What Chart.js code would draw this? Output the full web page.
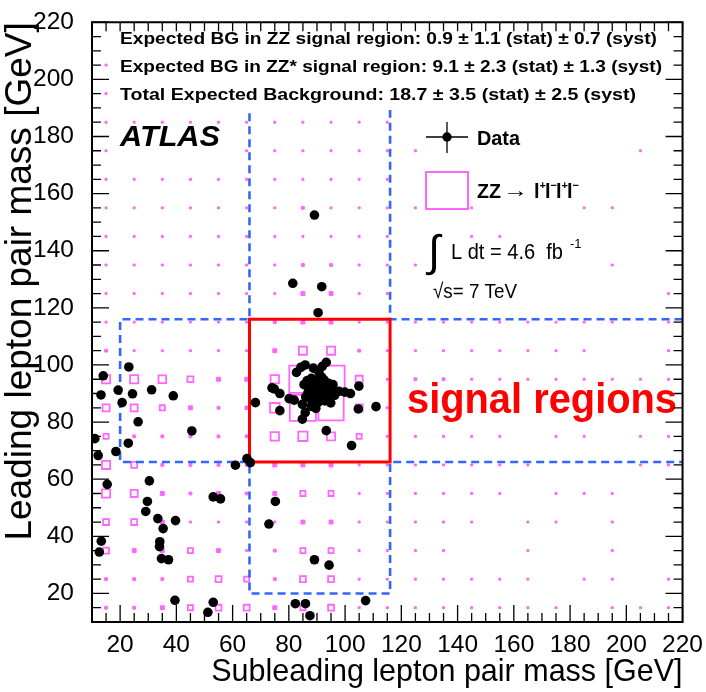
<!DOCTYPE html>
<html>
<head>
<meta charset="utf-8">
<title>ZZ candidates in the lepton pair mass plane</title>
<script src="https://cdn.jsdelivr.net/npm/chart.js@4.4.1/dist/chart.umd.min.js"></script>
<style>
	html, body { margin: 0; padding: 0; background: #fff; }
	canvas { display: block; }
</style>
</head>
<body>
<canvas id="zz-mass-plane" width="706" height="692"></canvas>
<script>
/* global Chart */
'use strict';

// Axis range and labelled ticks [GeV]
var massRange = [10, 220];
var labelTicks = [20, 40, 60, 80, 100, 120, 140, 160, 180, 200, 220];

// Signal region edges [GeV]
var zzWindow = [66, 116];
var zzStarLowCut = 20;

// Data events: subleading pair mass (x) and leading pair mass (y)
var eventsSub = [
	89.1, 81.4, 91.7, 90.4,
	14.0, 23.1, 13.2, 19.3, 20.7, 24.4, 26.4, 31.2, 38.9, 45.5,
	11.0, 12.2, 18.5, 22.9, 61.0, 65.1, 66.3,
	15.4, 30.4, 29.7, 29.1, 33.4, 35.3, 34.1, 34.0, 34.7, 37.2, 39.7, 39.5, 13.3, 12.6,
	53.1, 55.7, 51.2, 53.1, 75.2, 72.9, 89.1, 94.3, 82.3, 85.9, 87.5, 107.3,
	68.1, 102.3, 104.7, 104.9, 111.0, 74.0, 74.8, 76.8, 76.8, 80.1, 81.9, 84.8, 85.8,
	82.7, 84.3, 85.8, 88.7, 90.7, 91.9, 93.3, 93.3, 97.8, 99.9, 101.9, 85.4, 84.8, 86.0,
	86.5, 87.2, 88.0, 88.4, 88.9, 89.3, 89.6, 89.9, 90.2, 90.4, 90.6, 90.9, 91.1, 91.3,
	91.5, 91.7, 91.9, 92.1, 92.3, 92.5, 92.8, 93.0, 93.2, 93.5, 93.8, 94.1, 94.4, 94.8,
	95.3, 87.5, 88.6, 95.7, 96.3, 89.6, 87.9, 94.9, 86.8, 91.6
];
var eventsLead = [
	152.5, 128.6, 127.4, 118.3,
	96.2, 99.3, 89.5, 91.2, 86.8, 89.9, 80.1, 91.3, 89.2, 76.9,
	74.2, 68.3, 69.7, 72.6, 64.9, 67.2, 65.8,
	58.2, 59.4, 52.2, 48.7, 46.2, 42.7, 38.1, 36.4, 32.2, 31.8, 45.5, 17.6, 38.3, 34.5,
	53.8, 53.1, 13.4, 16.9, 52.2, 44.3, 31.8, 29.9, 16.4, 16.4, 12.2, 17.5,
	86.8, 71.8, 84.6, 92.6, 85.4, 92.0, 91.6, 90.0, 84.0, 88.2, 87.7, 81.0, 83.3,
	97.4, 99.2, 100.0, 98.9, 97.4, 99.5, 100.9, 77.0, 90.8, 90.5, 90.0, 93.1, 86.2, 88.8,
	94.5, 92.0, 95.3, 90.6, 93.4, 88.7, 91.8, 94.6, 90.1, 86.9, 92.7, 89.2, 91.3, 93.9,
	88.0, 90.6, 92.3, 89.7, 91.6, 94.8, 87.4, 90.2, 92.9, 88.9, 91.1, 93.6, 89.9, 91.9,
	90.5, 88.2, 86.2, 93.1, 89.4, 84.8, 85.5, 86.7, 90.3, 95.8
];

// ZZ -> 4l prediction, 10 GeV bins; box side as a fraction of the bin width
var binCentres = [15, 25, 35, 45, 55, 65, 75, 85, 95, 105, 115, 125, 135, 145, 155, 165, 175, 185, 195, 205, 215];
var binWidth = 10;
var zzBoxes = [ // rows from 215 GeV (top) down to 15 GeV
	[0, 0, 0, 0, 0, 0, 0, 0, 0, 0, 0, 0, 0, 0, 0, 0, 0, 0, 0, 0, 0],
	[.07, 0, 0, 0, 0, 0, 0, 0, 0, 0, 0, 0, 0, 0, 0, 0, 0, 0, 0, 0, 0],
	[.07, 0, 0, 0, 0, 0, 0, 0, 0, 0, 0, 0, 0, 0, 0, 0, 0, 0, 0, 0, 0],
	[.07, .07, .07, .07, .07, .07, .07, .07, .07, .07, .07, 0, 0, 0, 0, 0, 0, 0, 0, 0, 0],
	[.07, 0, 0, 0, 0, .07, .07, .07, .07, .07, .07, .07, 0, 0, 0, 0, 0, 0, 0, .07, 0],
	[.07, .07, .07, .07, .07, .07, .07, .07, .07, .07, .07, 0, 0, 0, 0, 0, 0, 0, 0, 0, 0],
	[.07, .07, .07, .07, .07, .07, .07, .10, .07, .07, .07, .07, 0, .07, 0, 0, 0, .07, .07, 0, 0],
	[.07, .07, .07, .07, .07, .07, .07, .07, .07, .07, .07, 0, 0, .07, .07, 0, 0, 0, 0, 0, 0],
	[.07, .07, .07, .07, .07, .07, .07, .10, .10, .07, .07, .07, 0, 0, 0, 0, 0, 0, .07, 0, 0],
	[.07, .07, .07, .07, .07, .07, .07, .14, .14, .07, .07, 0, 0, 0, 0, 0, 0, 0, 0, 0, .07],
	[.07, .07, .07, .07, .07, .07, .10, .14, .14, .07, .07, .07, .07, .07, .07, .07, .07, .07, .07, 0, .07],
	[.10, .07, .07, .07, .07, .07, .14, .29, .29, .10, .07, .07, .07, .07, .07, .07, .07, .07, 0, 0, .07],
	[.29, .29, .27, .21, .14, .14, .30, .97, .97, .25, .07, .10, .10, .07, .07, .07, .07, .07, .07, .07, .07],
	[.25, .25, .18, .14, .10, .12, .34, .93, .90, .25, .07, 0, 0, 0, 0, 0, 0, 0, 0, 0, 0],
	[.18, .10, .10, .10, .10, .10, .30, .33, .29, .18, .07, .07, .07, .07, .07, 0, .07, .07, 0, .07, .07],
	[.29, .21, .10, .10, .10, .10, .14, .14, .14, .07, .07, .07, .07, .07, .07, .07, 0, 0, 0, .07, .07],
	[.29, .25, .14, .10, .14, .10, .14, .18, .18, .07, .07, .07, .07, .07, .07, 0, .07, .07, .07, 0, 0],
	[.21, .21, .14, .07, .07, .07, .07, .14, .14, .07, .07, .07, .07, .07, 0, .07, .07, 0, .07, 0, 0],
	[.21, .14, .14, .18, .14, .07, .10, .18, .18, .07, .07, .07, .07, 0, 0, .07, 0, 0, .07, 0, 0],
	[.10, .10, .10, .18, .21, .18, .10, .21, .21, .07, .07, .07, .07, .07, .07, .07, 0, .07, .07, 0, .07],
	[.10, .10, .14, .18, .21, .21, .14, .18, .21, .07, .07, .07, .07, .07, .07, .07, .07, 0, .07, .07, .07]
];

var pink = '#ff66ff';
var blue = '#3366ff';

// Pick a narrow sans for ticks if the system has one
var probe = document.createElement('canvas').getContext('2d');
probe.font = '40px "Liberation Sans Narrow", "Liberation Sans"';
var narrowWidth = probe.measureText('Subleading').width;
probe.font = '40px "Liberation Sans"';
var hasNarrow = narrowWidth < 0.9 * probe.measureText('Subleading').width;

var sans = '"Liberation Sans", Arial, sans-serif';
var narrow = hasNarrow ? '"Liberation Sans Narrow", ' + sans : sans;
var tickFont = { family: narrow, size: hasNarrow ? 28 : 24.5, lineHeight: 1 };
var xTitleFont = { family: narrow, size: hasNarrow ? 37 : 30.5, lineHeight: 1 };
var yTitleFont = { family: sans, size: 37, lineHeight: 1 };

// Build datasets
var dataPoints = eventsSub.map(function(x, i) {
	return { x: x, y: eventsLead[i] };
});

var zzPoints = [];
zzBoxes.forEach(function(row, r) {
	row.forEach(function(w, c) {
		if (w > 0) {
			zzPoints.push({ x: binCentres[c], y: binCentres[binCentres.length - 1 - r], w: w });
		}
	});
});

var lo = zzWindow[0];
var hi = zzWindow[1];
var edge = massRange[1];
var zzStarOutline = [
	{ x: lo, y: edge }, { x: lo, y: hi }, { x: zzStarLowCut, y: hi }, { x: zzStarLowCut, y: lo },
	{ x: lo, y: lo }, { x: lo, y: zzStarLowCut }, { x: hi, y: zzStarLowCut }, { x: hi, y: lo }, { x: edge, y: lo }
];
var zzStarOutlineUpper = [{ x: edge, y: hi }, { x: hi, y: hi }, { x: hi, y: edge }];
var zzOutline = [{ x: lo, y: lo }, { x: hi, y: lo }, { x: hi, y: hi }, { x: lo, y: hi }, { x: lo, y: lo }];

function boxSide(c) {
	if (!c.raw) {
		return 0;
	}
	var xs = c.chart.scales.x;
	return c.raw.w * (xs.getPixelForValue(binWidth) - xs.getPixelForValue(0));
}

function fitText(ctx, text, x, y, font, width, color) {
	ctx.save();
	ctx.font = font;
	ctx.fillStyle = color || '#000';
	ctx.textBaseline = 'alphabetic';
	ctx.textAlign = 'left';
	var sx = width ? width / ctx.measureText(text).width : 1;
	ctx.translate(x, y);
	ctx.scale(sx, 1);
	ctx.fillText(text, 0, 0);
	ctx.restore();
}

// Text box, ATLAS label, legend and region label
var annotations = {
	id: 'annotations',
	afterDatasetsDraw: function(chart) {
		var ctx = chart.ctx;
		ctx.save();
		ctx.fillStyle = '#fff';
		ctx.fillRect(113, 22, 555, 88);

		var bold = 'bold 17px ' + sans;
		fitText(ctx, 'Expected BG in ZZ signal region: 0.9 \u00b1 1.1 (stat) \u00b1 0.7 (syst)', 120, 44, bold, 537);
		fitText(ctx, 'Expected BG in ZZ* signal region: 9.1 \u00b1 2.3 (stat) \u00b1 1.3 (syst)', 120, 72, bold, 542);
		fitText(ctx, 'Total Expected Background: 18.7 \u00b1 3.5 (stat) \u00b1 2.5 (syst)', 120, 100, bold, 516);

		fitText(ctx, 'ATLAS', 120, 146, 'italic bold 30px ' + sans, 100);

		// Data entry
		ctx.strokeStyle = '#000';
		ctx.lineWidth = 1.3;
		ctx.beginPath();
		ctx.moveTo(426, 137);
		ctx.lineTo(468, 137);
		ctx.moveTo(447, 122);
		ctx.lineTo(447, 153);
		ctx.stroke();
		ctx.fillStyle = '#000';
		ctx.beginPath();
		ctx.arc(447, 137, 4.7, 0, Math.PI * 2);
		ctx.fill();
		fitText(ctx, 'Data', 477, 145, 'bold 20px ' + sans, 43);

		// ZZ entry
		ctx.strokeStyle = pink;
		ctx.lineWidth = 2;
		ctx.strokeRect(426, 172, 42, 37);
		fitText(ctx, 'ZZ', 477, 198, 'bold 20px ' + sans, 24);
		fitText(ctx, '\u2192', 503, 197, '20px ' + sans, 25);
		var lx = 534;
		['+', '\u2212', '+', '\u2212'].forEach(function(sign) {
			fitText(ctx, 'l', lx, 198, 'bold 20px ' + sans);
			fitText(ctx, sign, lx + 5.5, 189, 'bold 11px ' + sans);
			lx += 11;
		});

		// Luminosity and energy
		fitText(ctx, '\u222b', 428, 266, '44px ' + sans);
		fitText(ctx, 'L dt = 4.6  fb', 451, 259, '22px ' + sans, 112);
		fitText(ctx, '-1', 570, 248, '13px ' + sans);
		fitText(ctx, '\u221as= 7 TeV', 433, 298, '21px ' + sans, 84);

		fitText(ctx, 'signal regions', 407, 413, 'bold 42px ' + sans, 270, '#ff0000');
		ctx.restore();
	}
};

// Frame and ROOT-style inward ticks on all four sides
var frameTicks = {
	id: 'frameTicks',
	afterDraw: function(chart) {
		var ctx = chart.ctx;
		var ca = chart.chartArea;
		var xs = chart.scales.x;
		var ys = chart.scales.y;
		ctx.save();
		ctx.strokeStyle = '#000';
		ctx.lineWidth = 1.3;
		ctx.beginPath();
		for (var v = massRange[0]; v <= massRange[1]; v += 5) {
			var len = v % 20 === 0 ? 17 : 9;
			var px = xs.getPixelForValue(v);
			var py = ys.getPixelForValue(v);
			ctx.moveTo(px, ca.bottom);
			ctx.lineTo(px, ca.bottom - len);
			ctx.moveTo(px, ca.top);
			ctx.lineTo(px, ca.top + 9);
			ctx.moveTo(ca.left, py);
			ctx.lineTo(ca.left + len, py);
			ctx.moveTo(ca.right, py);
			ctx.lineTo(ca.right - len, py);
		}
		ctx.stroke();
		ctx.lineWidth = 2;
		ctx.strokeRect(ca.left, ca.top, ca.right - ca.left, ca.bottom - ca.top);
		ctx.restore();
	}
};

var canvas = document.getElementById('zz-mass-plane');

new Chart(canvas, {
	type: 'scatter',
	data: {
		datasets: [
			{
				label: 'Data',
				data: dataPoints,
				order: 0,
				pointStyle: 'circle',
				pointRadius: 4.8,
				pointBackgroundColor: '#000',
				pointBorderWidth: 0
			},
			{
				label: 'ZZ signal region',
				data: zzOutline,
				order: 1,
				showLine: true,
				borderColor: '#ff0000',
				borderWidth: 3,
				pointRadius: 0
			},
			{
				label: 'ZZ* signal region',
				data: zzStarOutline,
				order: 2,
				showLine: true,
				borderColor: blue,
				borderWidth: 2.6,
				borderDash: [8, 5],
				pointRadius: 0
			},
			{
				label: 'ZZ* signal region (upper)',
				data: zzStarOutlineUpper,
				order: 2,
				showLine: true,
				borderColor: blue,
				borderWidth: 2.6,
				borderDash: [8, 5],
				pointRadius: 0
			},
			{
				label: 'ZZ \u2192 l+l-l+l-',
				data: zzPoints,
				order: 3,
				pointStyle: 'rect',
				pointRadius: function(c) {
					return boxSide(c) / Math.SQRT2;
				},
				pointBorderWidth: function(c) {
					return boxSide(c) < 4 ? 1 : 1.8;
				},
				pointBorderColor: pink,
				pointBackgroundColor: function(c) {
					return boxSide(c) < 4 ? pink : 'rgba(0,0,0,0)';
				}
			}
		]
	},
	options: {
		responsive: false,
		animation: false,
		devicePixelRatio: 1,
		events: [],
		layout: {
			padding: { top: 15, right: 21, bottom: 0, left: 0 }
		},
		plugins: {
			legend: { display: false },
			tooltip: { enabled: false }
		},
		scales: {
			x: {
				type: 'linear',
				min: massRange[0],
				max: massRange[1],
				afterBuildTicks: function(scale) {
					scale.ticks = labelTicks.map(function(v) { return { value: v }; });
				},
				afterFit: function(scale) {
					scale.height = 70;
				},
				grid: { display: false },
				border: { display: false },
				ticks: { color: '#000', font: tickFont, padding: 3, maxRotation: 0, autoSkip: false },
				title: {
					display: true,
					text: 'Subleading lepton pair mass [GeV]',
					align: 'end',
					color: '#000',
					font: xTitleFont,
					padding: { top: 0, bottom: hasNarrow ? 1.5 : 4.5 }
				}
			},
			y: {
				type: 'linear',
				min: massRange[0],
				max: massRange[1],
				afterBuildTicks: function(scale) {
					scale.ticks = labelTicks.map(function(v) { return { value: v }; });
				},
				afterFit: function(scale) {
					scale.width = 92;
				},
				grid: { display: false },
				border: { display: false },
				ticks: { color: '#000', font: tickFont, padding: 10, autoSkip: false },
				title: {
					display: true,
					text: 'Leading lepton pair mass [GeV]',
					align: 'end',
					color: '#000',
					font: yTitleFont,
					padding: { top: 2, bottom: 0 }
				}
			}
		}
	},
	plugins: [annotations, frameTicks]
});
</script>
</body>
</html>
